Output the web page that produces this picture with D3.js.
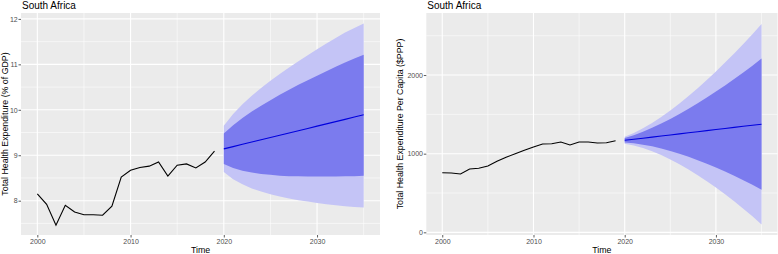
<!DOCTYPE html>
<html><head><meta charset="utf-8">
<script src="https://cdn.jsdelivr.net/npm/d3@7"></script>
<style>body{margin:0;background:#fff}svg{display:block}text{font-family:"Liberation Sans",Arial,sans-serif}</style>
</head><body><svg id="c" width="778" height="254"></svg>
<script>
const histYears = [2000,2001,2002,2003,2004,2005,2006,2007,2008,2009,2010,2011,2012,2013,2014,2015,2016,2017,2018,2019];
const fcYears = [2020,2021,2022,2023,2024,2025,2026,2027,2028,2029,2030,2031,2032,2033,2034,2035];

const gdpHist = [8.15,7.92,7.46,7.90,7.75,7.69,7.69,7.68,7.88,8.52,8.67,8.73,8.76,8.85,8.54,8.78,8.81,8.72,8.85,9.09];
const gdpMean = [9.14,9.19,9.24,9.29,9.34,9.39,9.44,9.49,9.54,9.59,9.64,9.69,9.74,9.79,9.84,9.89];
const gdpHi95 = [9.65,9.91,10.12,10.31,10.48,10.64,10.79,10.93,11.07,11.20,11.33,11.46,11.58,11.70,11.80,11.90];
const gdpLo95 = [8.63,8.47,8.36,8.27,8.20,8.14,8.09,8.05,8.01,7.98,7.95,7.92,7.90,7.88,7.86,7.85];
const gdpHi80 = [9.48,9.66,9.82,9.96,10.09,10.21,10.33,10.44,10.55,10.65,10.75,10.85,10.95,11.04,11.13,11.21];
const gdpLo80 = [8.81,8.72,8.66,8.62,8.59,8.57,8.55,8.54,8.54,8.53,8.53,8.53,8.53,8.54,8.54,8.55];

const pcHist = [758,754,742,805,814,843,903,954,1000,1043,1085,1123,1127,1149,1111,1149,1149,1136,1140,1165];
const pcMean = [1170,1184,1197,1211,1225,1238,1252,1266,1279,1293,1307,1321,1334,1348,1362,1375];
const pcHi95 = [1215,1264,1322,1391,1468,1550,1639,1733,1832,1936,2045,2158,2274,2395,2520,2650];
const pcLo95 = [1125,1104,1072,1031,982,926,865,799,726,650,569,484,394,301,204,100];
const pcHi80 = [1199,1236,1279,1329,1384,1442,1505,1571,1641,1714,1790,1868,1949,2033,2119,2209];
const pcLo80 = [1141,1132,1115,1093,1066,1034,999,961,917,872,824,774,719,663,605,541];

const xTicks = [2000,2010,2020,2030];
const xMinor = [2005,2015,2025,2035];
const gdpTicks = [8,9,10,11,12];
const gdpMinor = [7.5,8.5,9.5,10.5,11.5];
const pcTicks = [0,1000,2000];
const pcMinor = [500,1500,2500];

const svg = d3.select("#c");

function panel(o){
  const g = svg.append("g");
  const x = d3.scaleLinear().domain([1998.25,2036.75]).range([o.left,o.right]);
  const y = d3.scaleLinear().domain(o.yDomain).range([235,13]);
  g.append("rect").attr("x",o.left).attr("y",13).attr("width",o.right-o.left).attr("height",222).attr("fill","#EBEBEB");
  const grid = g.append("g").attr("stroke","#fff");
  o.yMinor.forEach(v=>grid.append("line").attr("x1",o.left).attr("x2",o.right).attr("y1",y(v)).attr("y2",y(v)).attr("stroke-width",0.55));
  xMinor.forEach(v=>grid.append("line").attr("x1",x(v)).attr("x2",x(v)).attr("y1",13).attr("y2",235).attr("stroke-width",0.55));
  o.yTicks.forEach(v=>grid.append("line").attr("x1",o.left).attr("x2",o.right).attr("y1",y(v)).attr("y2",y(v)).attr("stroke-width",1.1));
  xTicks.forEach(v=>grid.append("line").attr("x1",x(v)).attr("x2",x(v)).attr("y1",13).attr("y2",235).attr("stroke-width",1.1));

  const area = (hi,lo)=>d3.area().x((d,i)=>x(fcYears[i])).y0((d,i)=>y(lo[i])).y1((d,i)=>y(hi[i]))(fcYears);
  g.append("path").attr("d",area(o.hi95,o.lo95)).attr("fill","#C4C4F6");
  g.append("path").attr("d",area(o.hi80,o.lo80)).attr("fill","#7B7BEE");
  g.append("path").attr("d",d3.line().x((d,i)=>x(fcYears[i])).y((d,i)=>y(o.mean[i]))(fcYears))
    .attr("fill","none").attr("stroke","#0000DD").attr("stroke-width",1.1);
  g.append("path").attr("d",d3.line().x((d,i)=>x(histYears[i])).y((d,i)=>y(o.hist[i]))(histYears))
    .attr("fill","none").attr("stroke","#000").attr("stroke-width",1.1);

  const ax = g.append("g").attr("transform",`translate(0,235)`)
    .call(d3.axisBottom(x).tickValues(xTicks).tickFormat(d3.format("d")).tickSize(2.5).tickPadding(1.5));
  const ay = g.append("g").attr("transform",`translate(${o.left},0)`)
    .call(d3.axisLeft(y).tickValues(o.yTicks).tickFormat(d=>d).tickSize(2.5).tickPadding(0.8));
  [ax,ay].forEach(a=>{
    a.select(".domain").remove();
    a.selectAll("line").attr("stroke","#333").attr("stroke-width",0.8);
    a.selectAll("text").attr("fill","#4D4D4D").style("font-size","7px").style("font-family","'Liberation Sans',Arial,sans-serif");
  });
  g.append("text").attr("x",o.left+1).attr("y",8.5).text("South Africa").attr("font-size","10px").attr("fill","#000");
  g.append("text").attr("x",(o.left+o.right)/2).attr("y",253).attr("text-anchor","middle").text("Time").attr("font-size","8.8px").attr("fill","#000");
  g.append("text").attr("transform",`translate(${o.yTitleX},124) rotate(-90)`).attr("text-anchor","middle")
    .text(o.yTitle).attr("font-size","8.8px").attr("fill","#000");
}

panel({left:21,right:380,yDomain:[7.245,12.13],yTicks:gdpTicks,yMinor:gdpMinor,
  hist:gdpHist,mean:gdpMean,hi95:gdpHi95,lo95:gdpLo95,hi80:gdpHi80,lo80:gdpLo80,
  yTitle:"Total Health Expenditure (% of GDP)",yTitleX:8.3});
panel({left:426.3,right:777.5,yDomain:[-34,2789],yTicks:pcTicks,yMinor:pcMinor,
  hist:pcHist,mean:pcMean,hi95:pcHi95,lo95:pcLo95,hi80:pcHi80,lo80:pcLo80,
  yTitle:"Total Health Expenditure Per Capita ($PPP)",yTitleX:403});
</script></body></html>
